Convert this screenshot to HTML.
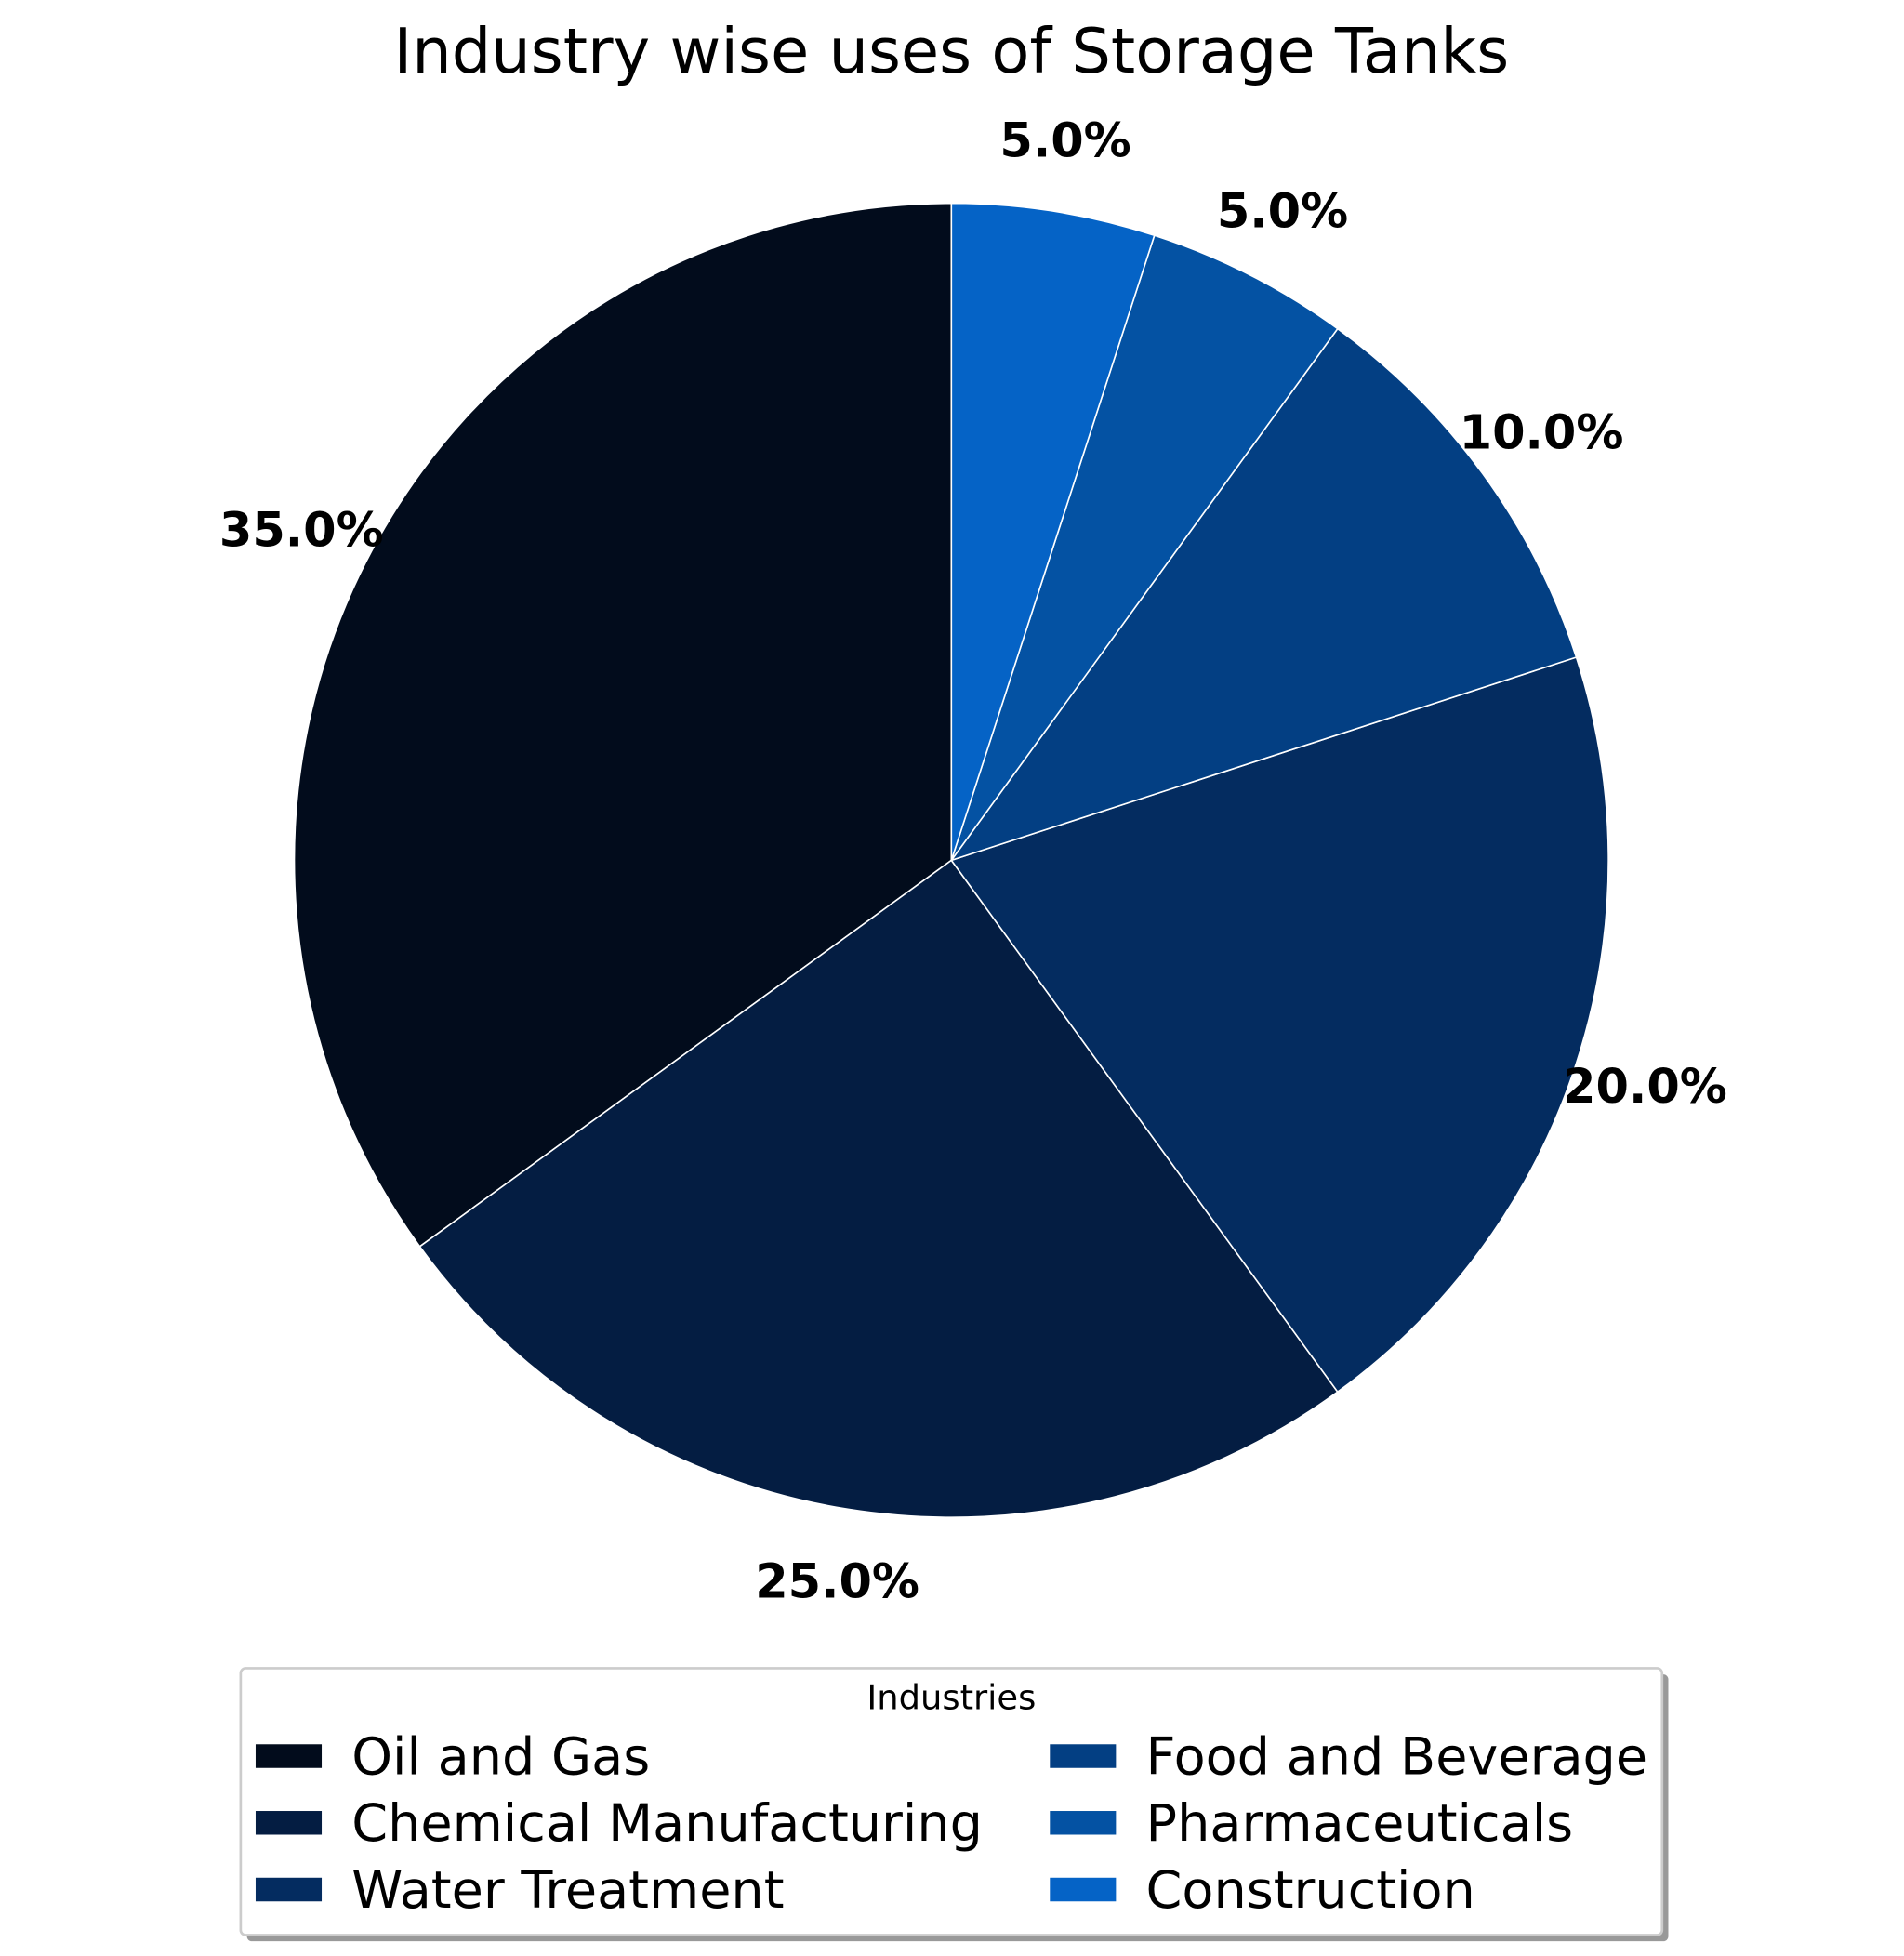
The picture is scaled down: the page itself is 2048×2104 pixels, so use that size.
<!DOCTYPE html>
<html><head><meta charset="utf-8"><style>
html,body{margin:0;padding:0;background:#fff;width:2048px;height:2104px;overflow:hidden}
svg{display:block}
text{font-family:"DejaVu Sans","Liberation Sans",sans-serif}
</style></head><body>
<svg id="chart" width="2048" height="2104" viewBox="0 0 1527 1568.8" xmlns="http://www.w3.org/2000/svg">
<text x="763" y="58" text-anchor="middle" font-size="50" fill="#000">Industry wise uses of Storage Tanks</text>
<g id="slices"></g>
<g id="labels"></g>
<g>
<rect x="198" y="1343" width="1140" height="214" rx="4" fill="#999"/>
<rect x="193" y="1338" width="1140" height="214" rx="4" fill="#fff" stroke="#ccc" stroke-width="2"/>
<text x="763" y="1371" text-anchor="middle" font-size="27.5">Industries</text>
<g id="legend-entries"></g>
</g>
</svg>
<script>
const categories = ["Oil and Gas","Chemical Manufacturing","Water Treatment","Food and Beverage","Pharmaceuticals","Construction"];
const values = [35,25,20,10,5,5];
const colors = ["#020c1c","#041d42","#042c60","#033f83","#0452a3","#0563c6"];
const NS="http://www.w3.org/2000/svg";
const cx=763, cy=690, R=527;
const total=values.reduce((a,b)=>a+b,0);
const sg=document.getElementById('slices'), lg=document.getElementById('labels'), leg=document.getElementById('legend-entries');
let ang=90;
values.forEach((v,i)=>{
  const sweep=v/total*360, a0=ang*Math.PI/180, a1=(ang+sweep)*Math.PI/180;
  const x0=cx+R*Math.cos(a0), y0=cy-R*Math.sin(a0), x1=cx+R*Math.cos(a1), y1=cy-R*Math.sin(a1);
  const p=document.createElementNS(NS,'path');
  p.setAttribute('d',`M${cx},${cy} L${x0},${y0} A${R},${R} 0 ${sweep>180?1:0} 0 ${x1},${y1} Z`);
  p.setAttribute('fill',colors[i]);p.setAttribute('stroke','#fff');p.setAttribute('stroke-width','1.2');
  
  
  sg.appendChild(p);
  const am=(ang+sweep/2)*Math.PI/180, lr=R*1.11;
  const t=document.createElementNS(NS,'text');
  t.setAttribute('x',cx+lr*Math.cos(am));t.setAttribute('y',cy-lr*Math.sin(am)+13.5);
  t.setAttribute('text-anchor','middle');t.setAttribute('font-size','38');t.setAttribute('font-weight','bold');
  t.textContent=(v/total*100).toFixed(1)+'%';
  
  
  lg.appendChild(t);
  ang+=sweep;
  const col=Math.floor(i/3), row=i%3;
  const px=col?842:205, ry=1408+row*53.5;
  const r=document.createElementNS(NS,'rect');
  r.setAttribute('x',px);r.setAttribute('y',ry-9);r.setAttribute('width',53);r.setAttribute('height',19);r.setAttribute('fill',colors[i]);
  
  
  leg.appendChild(r);
  const lt=document.createElementNS(NS,'text');
  lt.setAttribute('x',px+77);lt.setAttribute('y',ry+15);lt.setAttribute('font-size','41.5');
  lt.textContent=categories[i];
  
  
  leg.appendChild(lt);
});
</script>
</body></html>
